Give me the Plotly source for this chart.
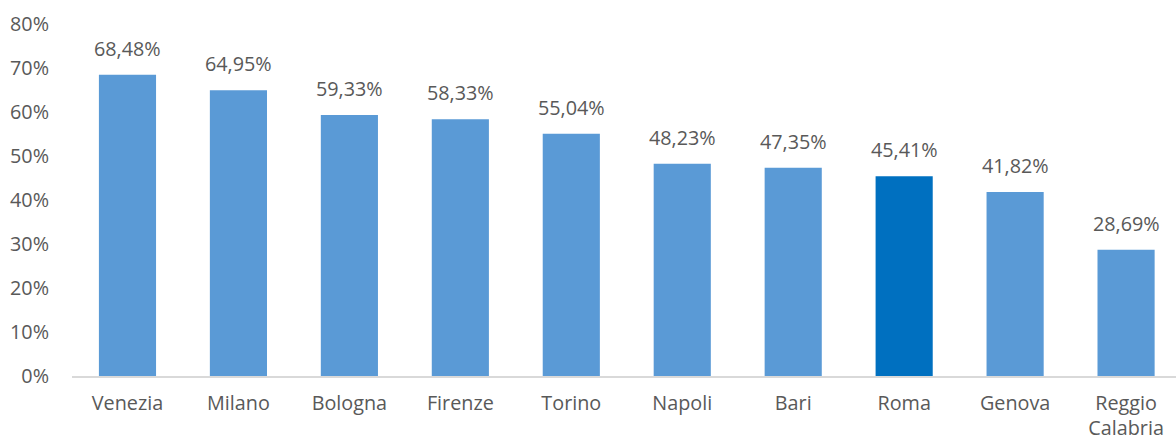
import plotly.graph_objects as go

cities = ["Venezia", "Milano", "Bologna", "Firenze", "Torino",
          "Napoli", "Bari", "Roma", "Genova", "Reggio<br>Calabria"]
shares = [0.6848, 0.6495, 0.5933, 0.5833, 0.5504,
          0.4823, 0.4735, 0.4541, 0.4182, 0.2869]
highlight = "Roma"

base_color = "#5A9AD6"
highlight_color = "#0070C0"
colors = [highlight_color if c == highlight else base_color for c in cities]

text_color = "#595959"
font_family = "'Open Sans', sans-serif"
font_size = 19.8

fig = go.Figure(
    go.Bar(
        x=cities,
        y=shares,
        marker=dict(color=colors, line=dict(width=0)),
        width=0.515,
        hoverinfo="x+y",
    )
)

# value labels above each bar
for city, share in zip(cities, shares):
    fig.add_annotation(
        x=city,
        y=share,
        text=f"{share * 100:.2f}%".replace(".", ","),
        showarrow=False,
        yanchor="bottom",
        yshift=11,
        font=dict(size=font_size, color=text_color, family=font_family),
    )

fig.update_layout(
    width=1176,
    height=441,
    margin=dict(l=72, r=0, t=24, b=65),
    paper_bgcolor="white",
    plot_bgcolor="white",
    separators=",.",
    showlegend=False,
    font=dict(family=font_family, size=font_size, color=text_color),
)

fig.update_xaxes(
    range=[-0.5, 9.45],
    automargin=False,
    showgrid=False,
    showline=True,
    linecolor="#D9D9D9",
    linewidth=1.5,
    ticks="",
    ticklabelstandoff=8,
    tickfont=dict(size=font_size, color=text_color),
)

fig.update_yaxes(
    range=[0, 0.8],
    automargin=False,
    tickvals=[0, 0.1, 0.2, 0.3, 0.4, 0.5, 0.6, 0.7, 0.8],
    tickformat=".0%",
    showgrid=False,
    zeroline=False,
    showline=False,
    ticks="",
    ticklabelstandoff=22,
    tickfont=dict(size=font_size, color=text_color),
)

fig.write_html("out.html")
